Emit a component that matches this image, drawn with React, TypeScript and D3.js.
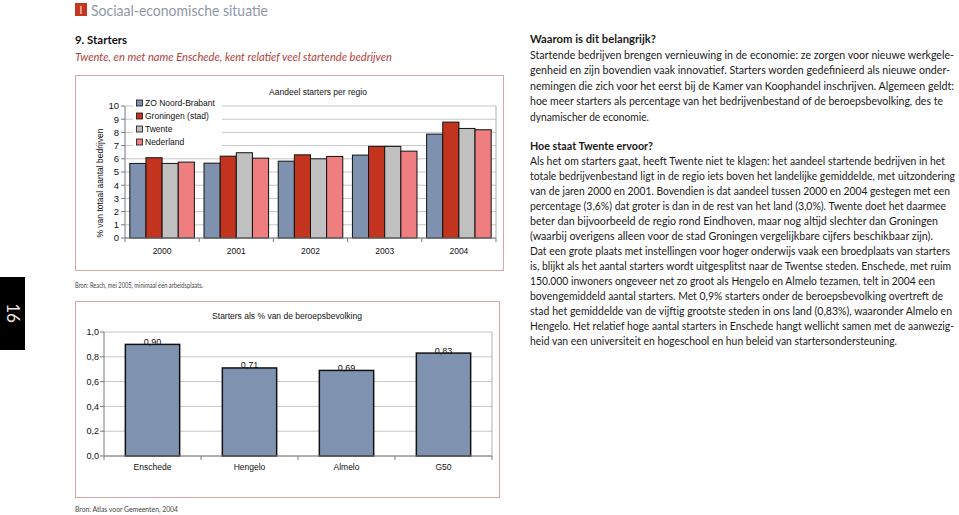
import React from "react";
import * as d3 from "d3";

// ---------- DATA ----------
const years = ["2000", "2001", "2002", "2003", "2004"];
const seriesNames = ["ZO Noord-Brabant", "Groningen (stad)", "Twente", "Nederland"];
const zoNoordBrabant = [5.65, 5.67, 5.82, 6.28, 7.87];
const groningen = [6.08, 6.2, 6.3, 6.94, 8.78];
const twente = [5.65, 6.46, 6.0, 6.94, 8.3];
const nederland = [5.75, 6.05, 6.18, 6.58, 8.2];
const chart1Ticks = [0, 1, 2, 3, 4, 5, 6, 7, 8, 9, 10];

const cities = ["Enschede", "Hengelo", "Almelo", "G50"];
const startersShare = [0.9, 0.71, 0.69, 0.83];
const chart2Ticks = [0, 0.2, 0.4, 0.6, 0.8, 1.0];

const seriesValues = [zoNoordBrabant, groningen, twente, nederland];
const seriesColors = ["#7e91ae", "#c3341f", "#c0c0c0", "#ee7e80"];

const headWhy = "Waarom is dit belangrijk?";
const linesWhy = [
  "Startende bedrijven brengen vernieuwing in de economie: ze zorgen voor nieuwe werkgele-",
  "genheid en zijn bovendien vaak innovatief. Starters worden gedefinieerd als nieuwe onder-",
  "nemingen die zich voor het eerst bij de Kamer van Koophandel inschrijven. Algemeen geldt:",
  "hoe meer starters als percentage van het bedrijvenbestand of de beroepsbevolking, des te",
  "dynamischer de economie.",
];
const headTwente = "Hoe staat Twente ervoor?";
const linesTwente = [
  "Als het om starters gaat, heeft Twente niet te klagen: het aandeel startende bedrijven in het",
  "totale bedrijvenbestand ligt in de regio iets boven het landelijke gemiddelde, met uitzondering",
  "van de jaren 2000 en 2001. Bovendien is dat aandeel tussen 2000 en 2004 gestegen met een",
  "percentage (3,6%) dat groter is dan in de rest van het land (3,0%). Twente doet het daarmee",
  "beter dan bijvoorbeeld de regio rond Eindhoven, maar nog altijd slechter dan Groningen",
  "(waarbij overigens alleen voor de stad Groningen vergelijkbare cijfers beschikbaar zijn).",
  "Dat een grote plaats met instellingen voor hoger onderwijs vaak een broedplaats van starters",
  "is, blijkt als het aantal starters wordt uitgesplitst naar de Twentse steden. Enschede, met ruim",
  "150.000 inwoners ongeveer net zo groot als Hengelo en Almelo tezamen, telt in 2004 een",
  "bovengemiddeld aantal starters. Met 0,9% starters onder de beroepsbevolking overtreft de",
  "stad het gemiddelde van de vijftig grootste steden in ons land (0,83%), waaronder Almelo en",
  "Hengelo. Het relatief hoge aantal starters in Enschede hangt wellicht samen met de aanwezig-",
  "heid van een universiteit en hogeschool en hun beleid van startersondersteuning.",
];

// layout (text line right ends)
const whyEnds = [954, 950, 954, 943, 649];
const twenteEnds = [945, 955, 950, 946, 938, 933, 950, 951, 935, 943, 952, 954, 897];

const chartFont = "'Liberation Sans', Arial, sans-serif";
const textFont = "Lato, 'Open Sans', sans-serif";

function FitText(props: {
  x: number; y: number; end: number; sx: number; children: string;
  fontSize?: number; fontWeight?: string; fontStyle?: string; fill?: string;
}) {
  const { x, y, end, sx, children, fontSize, fontWeight, fontStyle, fill } = props;
  return (
    <text
      transform={`translate(${x},${y}) scale(${sx},1)`}
      textLength={(end - x) / sx}
      lengthAdjust="spacingAndGlyphs"
      fontSize={fontSize}
      fontWeight={fontWeight}
      fontStyle={fontStyle}
      fill={fill}
    >
      {children}
    </text>
  );
}

export default function App() {
  // ----- chart 1 -----
  const p1 = { l: 125, r: 496, t: 106, b: 238 };
  const y1 = d3.scaleLinear().domain([0, 10]).range([p1.b, p1.t]);
  const x0 = d3.scaleBand().domain(years).range([p1.l, p1.r]).paddingInner(0.13).paddingOuter(0.065);
  const x1 = d3.scaleBand().domain(seriesNames).range([0, x0.bandwidth()]);
  const step1 = x0.step();

  // ----- chart 2 -----
  const p2 = { l: 104, r: 492, t: 332, b: 456 };
  const y2 = d3.scaleLinear().domain([0, 1]).range([p2.b, p2.t]);
  const x2 = d3.scaleBand().domain(cities).range([p2.l, p2.r]).paddingInner(0.44).paddingOuter(0.22);
  const step2 = x2.step();
  const fmt1 = (v: number) => d3.format(".1f")(v).replace(".", ",");
  const fmt2 = (v: number) => d3.format(".2f")(v).replace(".", ",");

  const textX = 530;
  const sx = 0.8;

  return (
    <svg width={959} height={515} style={{ position: "absolute", left: 0, top: 0, background: "#fff" }}>
      {/* header */}
      <rect x={75} y={3} width={12} height={13} fill="#c4361f" />
      <text x={81} y={14} textAnchor="middle" fill="#f6d2c8" fontFamily={textFont} fontSize={12}>I</text>
      <text x={91} y={16} fill="#8f98a8" fontFamily={textFont} fontSize={16} textLength={177} lengthAdjust="spacingAndGlyphs">
        Sociaal-economische situatie
      </text>
      <text x={75} y={44} fill="#111" fontFamily={textFont} fontSize={12} fontWeight="bold" textLength={52} lengthAdjust="spacingAndGlyphs">
        9. Starters
      </text>
      <text x={75} y={61} fill="#b3413a" fontFamily={textFont} fontSize={12} fontStyle="italic" textLength={317} lengthAdjust="spacingAndGlyphs">
        Twente, en met name Enschede, kent relatief veel startende bedrijven
      </text>

      {/* side tab */}
      <rect x={0} y={277} width={25} height={73} fill="#000" />
      <text transform="translate(12.5,313) rotate(90)" textAnchor="middle" dy="0.35em" fill="#f6e4e4" fontFamily={textFont} fontSize={17}>
        16
      </text>

      {/* ===== chart 1 ===== */}
      <rect x={75.5} y={75.5} width={428} height={195} fill="#fff" stroke="#dba5a5" />
      <text x={318} y={95} textAnchor="middle" fontFamily={chartFont} fontSize={8.5} fill="#111">Aandeel starters per regio</text>
      {chart1Ticks.map((t) => (
        <line key={"g1" + t} x1={p1.l} x2={p1.r} y1={y1(t)} y2={y1(t)} stroke="#c6c6c6" strokeWidth={1} />
      ))}
      <line x1={p1.r} x2={p1.r} y1={p1.t} y2={p1.b} stroke="#b0b0b0" />
      {years.map((yr, gi) => (
        <g key={yr}>
          {seriesNames.map((s, si) => {
            const v = seriesValues[si][gi];
            return (
              <rect
                key={s}
                x={(x0(yr) as number) + (x1(s) as number)}
                y={y1(v)}
                width={x1.bandwidth()}
                height={y1(0) - y1(v)}
                fill={seriesColors[si]}
                stroke="#111"
                strokeWidth={1}
              />
            );
          })}
        </g>
      ))}
      {/* axes */}
      <line x1={p1.l} x2={p1.l} y1={p1.t} y2={p1.b} stroke="#7a7a7a" />
      <line x1={p1.l} x2={p1.r} y1={p1.b} y2={p1.b} stroke="#7a7a7a" />
      {chart1Ticks.map((t) => (
        <g key={"t1" + t}>
          <line x1={p1.l - 4} x2={p1.l} y1={y1(t)} y2={y1(t)} stroke="#7a7a7a" />
          <text x={p1.l - 6} y={y1(t)} dy="0.35em" textAnchor="end" fontFamily={chartFont} fontSize={9.5} fill="#111">
            {t}
          </text>
        </g>
      ))}
      {d3.range(years.length + 1).map((k) => (
        <line key={"xt1" + k} x1={p1.l + k * step1} x2={p1.l + k * step1} y1={p1.b} y2={p1.b + 4} stroke="#7a7a7a" />
      ))}
      {years.map((yr) => (
        <text key={"yl" + yr} x={(x0(yr) as number) + x0.bandwidth() / 2} y={253.5} textAnchor="middle" fontFamily={chartFont} fontSize={8.5} fill="#111">
          {yr}
        </text>
      ))}
      <text transform="translate(100,183) rotate(-90)" dy="0.35em" textAnchor="middle" fontFamily={chartFont} fontSize={8.5} fill="#111">
        % van totaal aantal bedrijven
      </text>
      {/* legend */}
      <rect x={133} y={96} width={89} height={53} fill="#fff" />
      {seriesNames.map((s, i) => (
        <g key={"lg" + s} transform={`translate(136.5,${103 + i * 13})`}>
          <rect x={0} y={-3} width={6} height={6} fill={seriesColors[i]} stroke="#111" strokeWidth={0.8} />
          <text x={8.5} y={0} dy="0.35em" fontFamily={chartFont} fontSize={8.5} fill="#111">{s}</text>
        </g>
      ))}

      <text x={75} y={288} fontFamily={textFont} fontSize={8} fill="#444" textLength={128} lengthAdjust="spacingAndGlyphs">
        Bron: Reach, mei 2005, minimaal één arbeidsplaats.
      </text>

      {/* ===== chart 2 ===== */}
      <rect x={75.5} y={301.5} width={424} height={196} fill="#fff" stroke="#dba5a5" />
      <text x={287} y={319} textAnchor="middle" fontFamily={chartFont} fontSize={8.5} fill="#111">Starters als % van de beroepsbevolking</text>
      {chart2Ticks.map((t) => (
        <line key={"g2" + t} x1={p2.l} x2={p2.r} y1={y2(t)} y2={y2(t)} stroke="#c6c6c6" />
      ))}
      <line x1={p2.r} x2={p2.r} y1={p2.t} y2={p2.b} stroke="#b0b0b0" />
      {cities.map((c, i) => (
        <g key={c}>
          <rect
            x={x2(c) as number}
            y={y2(startersShare[i])}
            width={x2.bandwidth()}
            height={y2(0) - y2(startersShare[i])}
            fill="#7f93b0"
            stroke="#111"
            strokeWidth={1.5}
          />
          <text x={(x2(c) as number) + x2.bandwidth() / 2} y={y2(startersShare[i]) + 0.5} textAnchor="middle" fontFamily={chartFont} fontSize={9} fill="#111">
            {fmt2(startersShare[i])}
          </text>
          <text x={(x2(c) as number) + x2.bandwidth() / 2} y={470} textAnchor="middle" fontFamily={chartFont} fontSize={8.5} fill="#111">
            {c}
          </text>
        </g>
      ))}
      <line x1={p2.l} x2={p2.l} y1={p2.t} y2={p2.b} stroke="#7a7a7a" />
      <line x1={p2.l} x2={p2.r} y1={p2.b} y2={p2.b} stroke="#7a7a7a" />
      {chart2Ticks.map((t) => (
        <g key={"t2" + t}>
          <line x1={p2.l - 4} x2={p2.l} y1={y2(t)} y2={y2(t)} stroke="#7a7a7a" />
          <text x={p2.l - 5} y={y2(t)} dy="0.35em" textAnchor="end" fontFamily={chartFont} fontSize={9} fill="#111">
            {fmt1(t)}
          </text>
        </g>
      ))}
      {d3.range(cities.length + 1).map((k) => (
        <line key={"xt2" + k} x1={p2.l + k * step2} x2={p2.l + k * step2} y1={p2.b} y2={p2.b + 4} stroke="#7a7a7a" />
      ))}
      <text x={75} y={512} fontFamily={textFont} fontSize={8} fill="#444" textLength={103} lengthAdjust="spacingAndGlyphs">
        Bron: Atlas voor Gemeenten, 2004
      </text>

      {/* ===== right text ===== */}
      <g fontFamily={textFont} fontSize={12} fill="#1a1a1a">
        <FitText x={textX} y={43} end={656} sx={sx} fontWeight="bold">{headWhy}</FitText>
        {linesWhy.map((l, i) => (
          <FitText key={"w" + i} x={textX} y={43 + (i + 1) * 15.5} end={whyEnds[i]} sx={sx}>{l}</FitText>
        ))}
        <FitText x={textX} y={150} end={653} sx={sx} fontWeight="bold">{headTwente}</FitText>
        {linesTwente.map((l, i) => (
          <FitText key={"t" + i} x={textX} y={150 + (i + 1) * 15} end={twenteEnds[i]} sx={sx}>{l}</FitText>
        ))}
      </g>
    </svg>
  );
}
